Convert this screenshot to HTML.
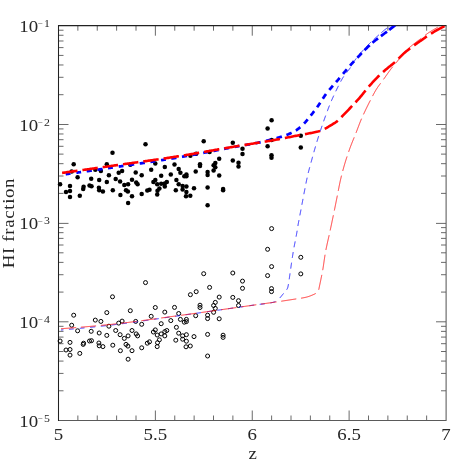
<!DOCTYPE html>
<html><head><meta charset="utf-8"><title>HI fraction</title>
<style>
html,body{margin:0;padding:0;background:#fff;}
body{width:471px;height:471px;overflow:hidden;font-family:"Liberation Serif",serif;}
svg{display:block;}
</style></head><body>
<svg width="471" height="471" viewBox="0 0 471 471">
<rect x="0" y="0" width="471" height="471" fill="#ffffff"/>
<defs><clipPath id="c"><rect x="58.5" y="25.7" width="387.5" height="394.8"/></clipPath><filter id="gs" x="0" y="0" width="471" height="471" filterUnits="userSpaceOnUse" color-interpolation-filters="sRGB"><feColorMatrix type="saturate" values="0"/></filter></defs>
<path d="M155.38,420.5 v-10 M155.38,25.7 v10 M252.25,420.5 v-10 M252.25,25.7 v10 M349.12,420.5 v-10 M349.12,25.7 v10 M58.5,321.80 h10 M446.0,321.80 h-10 M58.5,223.40 h10 M446.0,223.40 h-10 M58.5,124.50 h10 M446.0,124.50 h-10" stroke="#444" stroke-width="0.8" fill="none"/>
<path d="M77.87,420.5 v-5 M77.87,25.7 v5 M97.25,420.5 v-5 M97.25,25.7 v5 M116.62,420.5 v-5 M116.62,25.7 v5 M136.00,420.5 v-5 M136.00,25.7 v5 M174.75,420.5 v-5 M174.75,25.7 v5 M194.13,420.5 v-5 M194.13,25.7 v5 M213.50,420.5 v-5 M213.50,25.7 v5 M232.88,420.5 v-5 M232.88,25.7 v5 M271.62,420.5 v-5 M271.62,25.7 v5 M291.00,420.5 v-5 M291.00,25.7 v5 M310.38,420.5 v-5 M310.38,25.7 v5 M329.75,420.5 v-5 M329.75,25.7 v5 M368.50,420.5 v-5 M368.50,25.7 v5 M387.88,420.5 v-5 M387.88,25.7 v5 M407.25,420.5 v-5 M407.25,25.7 v5 M426.63,420.5 v-5 M426.63,25.7 v5 M58.5,390.79 h5 M446.0,390.79 h-5 M58.5,373.41 h5 M446.0,373.41 h-5 M58.5,361.08 h5 M446.0,361.08 h-5 M58.5,351.51 h5 M446.0,351.51 h-5 M58.5,343.70 h5 M446.0,343.70 h-5 M58.5,337.09 h5 M446.0,337.09 h-5 M58.5,331.37 h5 M446.0,331.37 h-5 M58.5,326.32 h5 M446.0,326.32 h-5 M58.5,292.09 h5 M446.0,292.09 h-5 M58.5,274.71 h5 M446.0,274.71 h-5 M58.5,262.38 h5 M446.0,262.38 h-5 M58.5,252.81 h5 M446.0,252.81 h-5 M58.5,245.00 h5 M446.0,245.00 h-5 M58.5,238.39 h5 M446.0,238.39 h-5 M58.5,232.67 h5 M446.0,232.67 h-5 M58.5,227.62 h5 M446.0,227.62 h-5 M58.5,193.39 h5 M446.0,193.39 h-5 M58.5,176.01 h5 M446.0,176.01 h-5 M58.5,163.68 h5 M446.0,163.68 h-5 M58.5,154.11 h5 M446.0,154.11 h-5 M58.5,146.30 h5 M446.0,146.30 h-5 M58.5,139.69 h5 M446.0,139.69 h-5 M58.5,133.97 h5 M446.0,133.97 h-5 M58.5,128.92 h5 M446.0,128.92 h-5 M58.5,94.69 h5 M446.0,94.69 h-5 M58.5,77.31 h5 M446.0,77.31 h-5 M58.5,64.98 h5 M446.0,64.98 h-5 M58.5,55.41 h5 M446.0,55.41 h-5 M58.5,47.60 h5 M446.0,47.60 h-5 M58.5,40.99 h5 M446.0,40.99 h-5 M58.5,35.27 h5 M446.0,35.27 h-5 M58.5,30.22 h5 M446.0,30.22 h-5" stroke="#444" stroke-width="0.8" fill="none"/>
<path d="M446.1,25.6 V420.5 H58.5" stroke="#5a5a5a" stroke-width="1.05" fill="none"/>
<path d="M58.5,421.0 V25.1" stroke="#222" stroke-width="1.05" fill="none"/>
<path d="M58.0,25.6 H446.5" stroke="#222" stroke-width="1.1" fill="none"/>
<g fill="none" stroke="#000" stroke-width="1.0">
<circle cx="60.1" cy="341.0" r="2.0"/>
<circle cx="73.7" cy="315.2" r="2.0"/>
<circle cx="71.7" cy="325.2" r="2.0"/>
<circle cx="77.6" cy="330.8" r="2.0"/>
<circle cx="70.0" cy="342.4" r="2.0"/>
<circle cx="66.0" cy="350.0" r="2.0"/>
<circle cx="70.0" cy="349.5" r="2.0"/>
<circle cx="70.0" cy="355.1" r="2.0"/>
<circle cx="79.8" cy="353.4" r="2.0"/>
<circle cx="83.6" cy="343.2" r="2.0"/>
<circle cx="83.2" cy="344.4" r="2.0"/>
<circle cx="91.2" cy="331.3" r="2.0"/>
<circle cx="89.5" cy="341.0" r="2.0"/>
<circle cx="91.5" cy="340.7" r="2.0"/>
<circle cx="95.3" cy="320.1" r="2.0"/>
<circle cx="100.9" cy="321.4" r="2.0"/>
<circle cx="99.2" cy="333.0" r="2.0"/>
<circle cx="98.9" cy="343.0" r="2.0"/>
<circle cx="99.2" cy="345.8" r="2.0"/>
<circle cx="102.9" cy="346.6" r="2.0"/>
<circle cx="106.8" cy="312.6" r="2.0"/>
<circle cx="108.9" cy="326.2" r="2.0"/>
<circle cx="106.8" cy="335.4" r="2.0"/>
<circle cx="112.5" cy="296.8" r="2.0"/>
<circle cx="112.8" cy="345.2" r="2.0"/>
<circle cx="145.5" cy="282.6" r="2.0"/>
<circle cx="115.7" cy="330.5" r="2.0"/>
<circle cx="118.7" cy="323.1" r="2.0"/>
<circle cx="122.1" cy="321.1" r="2.0"/>
<circle cx="120.1" cy="334.7" r="2.0"/>
<circle cx="124.3" cy="338.4" r="2.0"/>
<circle cx="128.1" cy="335.9" r="2.0"/>
<circle cx="126.0" cy="344.4" r="2.0"/>
<circle cx="127.9" cy="346.1" r="2.0"/>
<circle cx="120.4" cy="350.7" r="2.0"/>
<circle cx="132.0" cy="350.7" r="2.0"/>
<circle cx="128.1" cy="359.2" r="2.0"/>
<circle cx="130.3" cy="310.7" r="2.0"/>
<circle cx="135.7" cy="321.4" r="2.0"/>
<circle cx="132.0" cy="330.5" r="2.0"/>
<circle cx="136.2" cy="333.9" r="2.0"/>
<circle cx="137.6" cy="335.9" r="2.0"/>
<circle cx="141.7" cy="324.3" r="2.0"/>
<circle cx="141.7" cy="347.8" r="2.0"/>
<circle cx="147.3" cy="343.2" r="2.0"/>
<circle cx="149.5" cy="341.8" r="2.0"/>
<circle cx="151.2" cy="316.3" r="2.0"/>
<circle cx="155.3" cy="307.5" r="2.0"/>
<circle cx="155.3" cy="329.9" r="2.0"/>
<circle cx="153.4" cy="332.0" r="2.0"/>
<circle cx="157.2" cy="335.0" r="2.0"/>
<circle cx="159.4" cy="339.8" r="2.0"/>
<circle cx="157.5" cy="342.7" r="2.0"/>
<circle cx="157.2" cy="346.6" r="2.0"/>
<circle cx="161.2" cy="323.7" r="2.0"/>
<circle cx="161.2" cy="333.9" r="2.0"/>
<circle cx="164.8" cy="312.1" r="2.0"/>
<circle cx="164.8" cy="331.6" r="2.0"/>
<circle cx="166.8" cy="330.5" r="2.0"/>
<circle cx="164.8" cy="335.9" r="2.0"/>
<circle cx="170.8" cy="320.6" r="2.0"/>
<circle cx="174.5" cy="307.4" r="2.0"/>
<circle cx="175.8" cy="340.2" r="2.0"/>
<circle cx="178.7" cy="313.5" r="2.0"/>
<circle cx="180.4" cy="319.4" r="2.0"/>
<circle cx="176.4" cy="327.3" r="2.0"/>
<circle cx="178.7" cy="333.2" r="2.0"/>
<circle cx="184.3" cy="322.2" r="2.0"/>
<circle cx="186.4" cy="319.4" r="2.0"/>
<circle cx="186.4" cy="321.6" r="2.0"/>
<circle cx="182.6" cy="335.8" r="2.0"/>
<circle cx="186.4" cy="334.7" r="2.0"/>
<circle cx="182.6" cy="339.2" r="2.0"/>
<circle cx="186.4" cy="341.2" r="2.0"/>
<circle cx="186.0" cy="346.8" r="2.0"/>
<circle cx="190.3" cy="346.0" r="2.0"/>
<circle cx="190.4" cy="294.7" r="2.0"/>
<circle cx="196.2" cy="291.7" r="2.0"/>
<circle cx="195.7" cy="315.7" r="2.0"/>
<circle cx="194.0" cy="336.6" r="2.0"/>
<circle cx="200.0" cy="305.2" r="2.0"/>
<circle cx="200.0" cy="307.5" r="2.0"/>
<circle cx="203.7" cy="273.7" r="2.0"/>
<circle cx="207.6" cy="315.2" r="2.0"/>
<circle cx="207.6" cy="318.6" r="2.0"/>
<circle cx="207.6" cy="334.4" r="2.0"/>
<circle cx="207.6" cy="356.0" r="2.0"/>
<circle cx="209.6" cy="287.4" r="2.0"/>
<circle cx="213.6" cy="305.5" r="2.0"/>
<circle cx="215.3" cy="302.4" r="2.0"/>
<circle cx="215.3" cy="308.4" r="2.0"/>
<circle cx="213.6" cy="312.3" r="2.0"/>
<circle cx="219.2" cy="297.1" r="2.0"/>
<circle cx="219.2" cy="318.8" r="2.0"/>
<circle cx="223.1" cy="335.2" r="2.0"/>
<circle cx="223.1" cy="337.4" r="2.0"/>
<circle cx="232.8" cy="273.0" r="2.0"/>
<circle cx="232.8" cy="297.4" r="2.0"/>
<circle cx="242.5" cy="281.1" r="2.0"/>
<circle cx="242.5" cy="288.3" r="2.0"/>
<circle cx="238.5" cy="300.7" r="2.0"/>
<circle cx="238.5" cy="305.5" r="2.0"/>
<circle cx="267.6" cy="249.3" r="2.0"/>
<circle cx="271.6" cy="228.6" r="2.0"/>
<circle cx="271.6" cy="266.6" r="2.0"/>
<circle cx="267.6" cy="275.6" r="2.0"/>
<circle cx="271.5" cy="288.6" r="2.0"/>
<circle cx="271.5" cy="291.6" r="2.0"/>
<circle cx="300.8" cy="257.3" r="2.0"/>
<circle cx="300.8" cy="273.9" r="2.0"/>
</g>
<g fill="#000">
<circle cx="60.1" cy="184.3" r="2.25"/>
<circle cx="73.7" cy="164.2" r="2.25"/>
<circle cx="71.7" cy="171.5" r="2.25"/>
<circle cx="77.6" cy="177.2" r="2.25"/>
<circle cx="70.0" cy="186.0" r="2.25"/>
<circle cx="66.0" cy="192.1" r="2.25"/>
<circle cx="70.0" cy="191.1" r="2.25"/>
<circle cx="70.0" cy="196.9" r="2.25"/>
<circle cx="79.8" cy="195.7" r="2.25"/>
<circle cx="83.6" cy="186.8" r="2.25"/>
<circle cx="83.2" cy="188.9" r="2.25"/>
<circle cx="91.2" cy="178.7" r="2.25"/>
<circle cx="89.5" cy="185.5" r="2.25"/>
<circle cx="91.5" cy="186.2" r="2.25"/>
<circle cx="95.3" cy="169.8" r="2.25"/>
<circle cx="100.9" cy="171.0" r="2.25"/>
<circle cx="99.2" cy="179.9" r="2.25"/>
<circle cx="98.9" cy="187.7" r="2.25"/>
<circle cx="99.2" cy="190.2" r="2.25"/>
<circle cx="102.9" cy="191.6" r="2.25"/>
<circle cx="106.8" cy="164.2" r="2.25"/>
<circle cx="108.9" cy="175.3" r="2.25"/>
<circle cx="106.8" cy="181.9" r="2.25"/>
<circle cx="112.5" cy="152.8" r="2.25"/>
<circle cx="112.8" cy="190.2" r="2.25"/>
<circle cx="145.5" cy="144.3" r="2.25"/>
<circle cx="115.7" cy="178.9" r="2.25"/>
<circle cx="118.7" cy="172.7" r="2.25"/>
<circle cx="122.1" cy="171.0" r="2.25"/>
<circle cx="120.1" cy="181.4" r="2.25"/>
<circle cx="124.3" cy="185.1" r="2.25"/>
<circle cx="128.1" cy="184.3" r="2.25"/>
<circle cx="126.0" cy="190.2" r="2.25"/>
<circle cx="127.9" cy="191.6" r="2.25"/>
<circle cx="120.4" cy="195.0" r="2.25"/>
<circle cx="132.0" cy="196.2" r="2.25"/>
<circle cx="128.1" cy="203.0" r="2.25"/>
<circle cx="130.3" cy="164.7" r="2.25"/>
<circle cx="135.7" cy="172.4" r="2.25"/>
<circle cx="132.0" cy="179.7" r="2.25"/>
<circle cx="136.2" cy="182.6" r="2.25"/>
<circle cx="137.6" cy="184.3" r="2.25"/>
<circle cx="141.7" cy="175.3" r="2.25"/>
<circle cx="141.7" cy="194.0" r="2.25"/>
<circle cx="147.3" cy="190.6" r="2.25"/>
<circle cx="149.5" cy="189.7" r="2.25"/>
<circle cx="151.2" cy="169.8" r="2.25"/>
<circle cx="155.3" cy="163.4" r="2.25"/>
<circle cx="155.3" cy="180.0" r="2.25"/>
<circle cx="153.4" cy="182.1" r="2.25"/>
<circle cx="157.2" cy="184.3" r="2.25"/>
<circle cx="159.4" cy="188.5" r="2.25"/>
<circle cx="157.5" cy="190.8" r="2.25"/>
<circle cx="157.2" cy="194.5" r="2.25"/>
<circle cx="161.2" cy="175.8" r="2.25"/>
<circle cx="161.2" cy="183.8" r="2.25"/>
<circle cx="164.8" cy="167.0" r="2.25"/>
<circle cx="164.8" cy="183.4" r="2.25"/>
<circle cx="166.8" cy="182.1" r="2.25"/>
<circle cx="164.8" cy="186.5" r="2.25"/>
<circle cx="170.8" cy="174.4" r="2.25"/>
<circle cx="174.5" cy="164.5" r="2.25"/>
<circle cx="175.8" cy="190.2" r="2.25"/>
<circle cx="178.7" cy="169.0" r="2.25"/>
<circle cx="180.4" cy="172.7" r="2.25"/>
<circle cx="176.4" cy="180.0" r="2.25"/>
<circle cx="178.7" cy="184.3" r="2.25"/>
<circle cx="184.3" cy="176.3" r="2.25"/>
<circle cx="186.4" cy="174.4" r="2.25"/>
<circle cx="186.4" cy="176.3" r="2.25"/>
<circle cx="182.6" cy="186.0" r="2.25"/>
<circle cx="186.4" cy="186.5" r="2.25"/>
<circle cx="182.6" cy="189.4" r="2.25"/>
<circle cx="186.4" cy="191.9" r="2.25"/>
<circle cx="186.0" cy="196.2" r="2.25"/>
<circle cx="190.3" cy="195.7" r="2.25"/>
<circle cx="190.4" cy="155.7" r="2.25"/>
<circle cx="196.2" cy="153.7" r="2.25"/>
<circle cx="195.7" cy="171.5" r="2.25"/>
<circle cx="194.0" cy="188.2" r="2.25"/>
<circle cx="200.0" cy="164.2" r="2.25"/>
<circle cx="200.0" cy="166.1" r="2.25"/>
<circle cx="203.7" cy="141.3" r="2.25"/>
<circle cx="207.6" cy="171.9" r="2.25"/>
<circle cx="207.6" cy="174.9" r="2.25"/>
<circle cx="207.6" cy="187.4" r="2.25"/>
<circle cx="207.6" cy="205.2" r="2.25"/>
<circle cx="209.6" cy="152.0" r="2.25"/>
<circle cx="213.6" cy="165.3" r="2.25"/>
<circle cx="215.3" cy="163.0" r="2.25"/>
<circle cx="215.3" cy="167.3" r="2.25"/>
<circle cx="213.6" cy="170.4" r="2.25"/>
<circle cx="219.2" cy="158.8" r="2.25"/>
<circle cx="219.2" cy="175.5" r="2.25"/>
<circle cx="223.1" cy="189.1" r="2.25"/>
<circle cx="223.1" cy="190.2" r="2.25"/>
<circle cx="232.8" cy="142.8" r="2.25"/>
<circle cx="232.8" cy="160.4" r="2.25"/>
<circle cx="242.5" cy="148.8" r="2.25"/>
<circle cx="242.5" cy="154.1" r="2.25"/>
<circle cx="238.5" cy="162.7" r="2.25"/>
<circle cx="238.5" cy="166.5" r="2.25"/>
<circle cx="267.6" cy="128.4" r="2.25"/>
<circle cx="271.6" cy="120.2" r="2.25"/>
<circle cx="271.6" cy="140.0" r="2.25"/>
<circle cx="267.6" cy="146.3" r="2.25"/>
<circle cx="271.5" cy="155.3" r="2.25"/>
<circle cx="271.5" cy="157.8" r="2.25"/>
<circle cx="300.8" cy="135.8" r="2.25"/>
<circle cx="300.8" cy="147.4" r="2.25"/>
</g>
<g clip-path="url(#c)" fill="none">
<path d="M61.00,330.00 L61.40,329.97 L61.80,329.93 L62.20,329.90 L62.60,329.87 L62.99,329.84 L63.39,329.80 M68.97,329.33 L69.37,329.29 L69.77,329.26 L70.17,329.22 L70.57,329.19 L70.97,329.15 L71.37,329.12 L71.77,329.08 L72.16,329.05 L72.56,329.01 L72.96,328.98 L73.36,328.94 L73.76,328.90 M79.73,328.35 L80.13,328.31 L80.53,328.28 L80.93,328.24 L81.33,328.20 L81.73,328.16 L82.12,328.12 L82.52,328.09 L82.92,328.05 L83.32,328.01 L83.72,327.97 L84.11,327.93 L84.51,327.89 M90.09,327.34 L90.48,327.30 L90.88,327.26 L91.28,327.22 L91.68,327.18 L92.07,327.14 L92.47,327.10 L92.87,327.05 L93.27,327.01 L93.67,326.97 L94.06,326.93 L94.46,326.89 L94.86,326.85 L95.26,326.81 M100.83,326.22 L101.22,326.17 L101.62,326.13 L102.02,326.09 L102.42,326.04 L102.81,326.00 L103.21,325.96 L103.61,325.91 L104.01,325.87 L104.40,325.83 L104.80,325.78 L105.20,325.74 L105.60,325.69 L105.99,325.65 M111.55,325.02 L111.95,324.98 L112.35,324.93 L112.75,324.88 L113.14,324.84 L113.54,324.79 L113.94,324.74 L114.33,324.70 L114.73,324.65 L115.13,324.60 L115.53,324.55 L115.92,324.51 L116.32,324.46 L116.72,324.41 M122.27,323.71 L122.67,323.66 L123.06,323.61 L123.46,323.56 L123.86,323.51 L124.25,323.46 L124.65,323.41 L125.05,323.36 L125.44,323.30 L125.84,323.25 L126.24,323.20 L126.63,323.15 L127.03,323.10 M132.98,322.29 L133.37,322.24 L133.77,322.18 L134.16,322.13 L134.56,322.08 L134.96,322.02 L135.35,321.97 L135.75,321.91 L136.15,321.86 L136.54,321.80 L136.94,321.75 L137.33,321.69 L137.73,321.63 M143.28,320.85 L143.67,320.79 L144.07,320.74 L144.46,320.68 L144.86,320.62 L145.26,320.57 L145.65,320.51 L146.05,320.45 L146.45,320.40 L146.84,320.34 L147.24,320.28 L147.63,320.23 L148.03,320.17 L148.43,320.11 M153.97,319.31 L154.37,319.25 L154.76,319.20 L155.16,319.14 L155.55,319.08 L155.95,319.02 L156.35,318.97 L156.74,318.91 L157.14,318.85 L157.53,318.80 L157.93,318.74 L158.33,318.68 L158.72,318.62 M164.66,317.77 L165.06,317.71 L165.45,317.65 L165.85,317.60 L166.25,317.54 L166.64,317.48 L167.04,317.43 L167.43,317.37 L167.83,317.31 L168.23,317.26 L168.62,317.20 L169.02,317.14 L169.41,317.09 M174.96,316.31 L175.36,316.25 L175.75,316.20 L176.15,316.14 L176.54,316.08 L176.94,316.03 L177.34,315.97 L177.73,315.92 L178.13,315.86 L178.52,315.81 L178.92,315.75 L179.32,315.70 L179.71,315.64 L180.11,315.59 M185.65,314.81 L186.05,314.75 L186.45,314.69 L186.84,314.64 L187.24,314.58 L187.63,314.53 L188.03,314.47 L188.43,314.41 L188.82,314.36 L189.22,314.30 L189.62,314.24 L190.01,314.19 L190.41,314.13 L190.80,314.08 M196.35,313.29 L196.74,313.23 L197.14,313.18 L197.54,313.12 L197.93,313.06 L198.33,313.01 L198.72,312.95 L199.12,312.89 L199.52,312.84 L199.91,312.78 L200.31,312.72 L200.70,312.67 L201.10,312.61 M207.04,311.76 L207.43,311.70 L207.83,311.65 L208.23,311.59 L208.62,311.53 L209.02,311.48 L209.41,311.42 L209.81,311.36 L210.21,311.31 L210.60,311.25 L211.00,311.19 L211.39,311.14 L211.79,311.08 M217.33,310.28 L217.73,310.23 L218.13,310.17 L218.52,310.11 L218.92,310.06 L219.31,310.00 L219.71,309.94 L220.11,309.89 L220.50,309.83 L220.90,309.77 L221.29,309.72 L221.69,309.66 L222.09,309.60 L222.48,309.55 M228.02,308.75 L228.42,308.70 L228.82,308.64 L229.21,308.58 L229.61,308.53 L230.00,308.47 L230.40,308.41 L230.80,308.36 L231.19,308.30 L231.59,308.24 L231.98,308.19 L232.38,308.13 L232.78,308.07 L233.17,308.02 M238.72,307.23 L239.11,307.17 L239.51,307.12 L239.90,307.06 L240.30,307.00 L240.70,306.95 L241.09,306.89 L241.49,306.84 L241.88,306.78 L242.28,306.72 L242.68,306.67 L243.07,306.61 L243.47,306.56 M249.41,305.72 L249.81,305.66 L250.20,305.61 L250.60,305.55 L250.99,305.50 L251.39,305.44 L251.79,305.39 L252.18,305.33 L252.58,305.27 L252.98,305.22 L253.37,305.16 L253.77,305.11 L254.16,305.05 M259.72,304.32 L260.12,304.27 L260.52,304.22 L260.92,304.18 L261.32,304.13 L261.72,304.09 L262.12,304.04 L262.52,304.00 L262.92,303.95 L263.32,303.91 L263.72,303.86 L264.12,303.81 L264.52,303.77 L264.91,303.72 M270.44,302.91 L270.83,302.83 L271.22,302.76 L271.61,302.68 L272.00,302.60 L272.38,302.51 L272.78,302.42 L273.17,302.32 L273.56,302.21 L273.96,302.09 L274.34,301.97 L274.73,301.83 L275.10,301.69 L275.47,301.54 M279.74,298.03 L280.01,297.73 L280.27,297.43 L280.53,297.13 L280.79,296.82 L281.05,296.52 L281.30,296.21 L281.56,295.90 L281.81,295.58 L282.06,295.27 L282.32,294.96 L282.57,294.65 L282.82,294.34 L283.08,294.02 L283.33,293.72 L283.59,293.41 M286.66,289.72 L286.87,289.38 L287.09,289.04 L287.29,288.68 L287.47,288.33 L287.61,287.96 L287.74,287.59 L287.84,287.20 L287.94,286.81 L288.03,286.42 L288.11,286.02 L288.19,285.63 L288.27,285.24 L288.34,284.85 L288.41,284.45 L288.48,284.06 M289.20,279.31 L289.26,278.92 L289.32,278.52 L289.37,278.12 L289.43,277.73 L289.48,277.33 L289.54,276.94 L289.59,276.54 L289.65,276.14 L289.70,275.75 L289.76,275.35 L289.81,274.95 L289.87,274.56 L289.92,274.16 L289.98,273.77 L290.03,273.37 M290.72,268.62 L290.77,268.22 L290.83,267.83 L290.89,267.43 L290.95,267.03 L291.00,266.64 L291.06,266.24 L291.12,265.85 L291.17,265.45 L291.23,265.05 L291.29,264.66 L291.35,264.26 L291.40,263.87 L291.46,263.47 L291.52,263.07 L291.58,262.68 M292.28,257.93 L292.34,257.53 L292.40,257.14 L292.46,256.74 L292.52,256.35 L292.58,255.95 L292.64,255.56 L292.71,255.16 L292.77,254.77 L292.83,254.37 L292.89,253.98 L292.96,253.58 L293.02,253.19 L293.09,252.79 L293.15,252.40 L293.22,252.01 M294.05,247.28 L294.12,246.89 L294.19,246.49 L294.27,246.10 L294.34,245.71 L294.42,245.31 L294.49,244.92 L294.56,244.53 L294.64,244.13 L294.72,243.74 L294.79,243.35 L294.87,242.96 L294.94,242.56 L295.02,242.17 L295.09,241.78 L295.17,241.38 M296.08,236.67 L296.15,236.28 L296.22,235.88 L296.30,235.49 L296.37,235.10 L296.44,234.70 L296.52,234.31 L296.59,233.92 L296.66,233.52 L296.73,233.13 L296.80,232.73 L296.87,232.34 L296.94,231.95 L297.01,231.55 L297.07,231.16 L297.14,230.76 M297.90,226.02 L297.96,225.63 L298.03,225.24 L298.10,224.84 L298.16,224.45 L298.23,224.05 L298.30,223.66 L298.37,223.27 L298.44,222.87 L298.52,222.48 L298.59,222.09 L298.66,221.69 L298.73,221.30 L298.80,220.91 L298.88,220.51 L298.95,220.12 M299.85,215.40 L299.93,215.01 L300.00,214.62 L300.08,214.23 L300.16,213.83 L300.23,213.44 L300.31,213.05 L300.38,212.65 L300.46,212.26 L300.54,211.87 L300.61,211.48 L300.69,211.08 L300.76,210.69 L300.84,210.30 L300.91,209.90 L300.99,209.51 M301.88,204.79 L301.95,204.40 L302.03,204.01 L302.10,203.62 L302.17,203.22 L302.25,202.83 L302.32,202.44 L302.39,202.04 L302.47,201.65 L302.54,201.26 L302.61,200.86 L302.69,200.47 L302.76,200.08 L302.84,199.68 L302.91,199.29 L302.98,198.90 M303.88,194.18 L303.96,193.79 L304.03,193.40 L304.11,193.00 L304.18,192.61 L304.26,192.22 L304.34,191.83 L304.41,191.43 L304.49,191.04 L304.57,190.65 L304.64,190.26 L304.72,189.86 L304.79,189.47 L304.87,189.08 L304.94,188.68 L305.02,188.29 M305.93,183.57 L306.01,183.18 L306.08,182.79 L306.16,182.40 L306.24,182.00 L306.32,181.61 L306.40,181.22 L306.48,180.83 L306.56,180.44 L306.64,180.04 L306.72,179.65 L306.80,179.26 L306.88,178.87 L306.97,178.48 L307.05,178.09 L307.13,177.70 M308.21,173.03 L308.31,172.64 L308.41,172.25 L308.50,171.86 L308.60,171.47 L308.70,171.09 L308.80,170.70 L308.90,170.31 L309.00,169.93 L309.11,169.54 L309.21,169.15 L309.31,168.77 L309.41,168.38 L309.52,167.99 L309.62,167.61 L309.73,167.22 M311.00,162.59 L311.11,162.20 L311.22,161.82 L311.32,161.43 L311.43,161.05 L311.54,160.66 L311.64,160.27 L311.75,159.89 L311.85,159.50 L311.96,159.12 L312.06,158.73 L312.17,158.35 L312.28,157.96 L312.38,157.57 L312.49,157.19 L312.59,156.80 M313.88,152.18 L313.99,151.79 L314.09,151.41 L314.20,151.02 L314.31,150.64 L314.42,150.25 L314.53,149.87 L314.64,149.48 L314.75,149.10 L314.86,148.71 L314.97,148.33 L315.08,147.95 L315.19,147.56 L315.30,147.18 L315.42,146.79 L315.53,146.41 M316.89,141.81 L317.01,141.42 L317.13,141.04 L317.24,140.66 L317.36,140.28 L317.48,139.89 L317.60,139.51 L317.71,139.13 L317.83,138.75 L317.95,138.37 L318.07,137.98 L318.19,137.60 L318.31,137.22 L318.43,136.84 L318.55,136.46 L318.67,136.08 M320.15,131.51 L320.27,131.13 L320.40,130.75 L320.53,130.37 L320.65,129.99 L320.78,129.61 L320.91,129.23 L321.03,128.85 L321.16,128.47 L321.29,128.09 L321.42,127.72 L321.54,127.34 L321.67,126.96 L321.80,126.58 L321.93,126.20 L322.06,125.82 M323.63,121.29 L323.77,120.91 L323.90,120.53 L324.03,120.15 L324.17,119.78 L324.30,119.40 L324.44,119.02 L324.57,118.65 L324.71,118.27 L324.84,117.89 L324.98,117.52 L325.11,117.14 L325.25,116.77 L325.39,116.39 L325.52,116.01 L325.66,115.64 M327.32,111.13 L327.46,110.76 L327.60,110.38 L327.74,110.01 L327.88,109.63 L328.02,109.26 L328.16,108.88 L328.30,108.51 L328.45,108.14 L328.59,107.76 L328.73,107.39 L328.88,107.02 L329.02,106.64 L329.17,106.27 L329.32,105.90 L329.46,105.53 M331.29,101.09 L331.45,100.72 L331.60,100.36 L331.77,99.99 L331.93,99.63 L332.09,99.26 L332.25,98.90 L332.42,98.53 L332.59,98.17 L332.75,97.80 L332.92,97.44 L333.09,97.08 L333.26,96.71 L333.42,96.35 L333.59,95.99 L333.76,95.63 M335.81,91.28 L335.98,90.92 L336.16,90.56 L336.33,90.20 L336.50,89.84 L336.67,89.48 L336.85,89.12 L337.02,88.76 L337.20,88.40 L337.37,88.04 L337.55,87.68 L337.73,87.32 L337.91,86.96 L338.09,86.61 L338.27,86.25 L338.45,85.89 M340.66,81.62 L340.85,81.27 L341.04,80.91 L341.23,80.56 L341.42,80.21 L341.62,79.86 L341.81,79.51 L342.01,79.17 L342.21,78.82 L342.42,78.48 L342.62,78.14 L342.83,77.80 L343.04,77.46 L343.25,77.12 L343.47,76.79 L343.69,76.46 M346.59,72.64 L346.84,72.32 L347.09,72.01 L347.34,71.70 L347.59,71.38 L347.84,71.07 L348.09,70.75 L348.34,70.43 L348.58,70.12 L348.82,69.80 L349.06,69.48 L349.30,69.15 L349.53,68.83 L349.76,68.50 L349.99,68.17 L350.21,67.84 L350.43,67.51 M352.70,63.73 L352.91,63.38 L353.11,63.04 L353.32,62.70 L353.53,62.36 L353.74,62.01 L353.95,61.68 L354.16,61.34 L354.38,61.01 L354.60,60.68 L354.83,60.35 L355.06,60.02 L355.29,59.70 L355.52,59.38 L355.76,59.06 L355.99,58.74 L356.23,58.42 M358.73,55.29 L358.99,54.98 L359.24,54.67 L359.50,54.37 L359.76,54.06 L360.02,53.76 L360.29,53.45 L360.55,53.15 L360.81,52.85 L361.08,52.55 L361.34,52.24 L361.61,51.94 L361.87,51.64 L362.14,51.34 L362.40,51.04 L362.67,50.74 L362.94,50.44 L363.20,50.15 L363.47,49.85 M365.90,47.19 L366.17,46.90 L366.44,46.61 L366.72,46.32 L367.00,46.03 L367.27,45.74 L367.55,45.45 L367.83,45.16 L368.11,44.88 L368.39,44.59 L368.67,44.31 L368.95,44.02 L369.24,43.74 L369.52,43.46 L369.81,43.18 L370.09,42.90 L370.38,42.62 L370.66,42.34 L370.95,42.06 M373.58,39.61 L373.88,39.34 L374.18,39.08 L374.48,38.81 L374.78,38.54 L375.08,38.28 L375.38,38.01 L375.68,37.75 L375.98,37.48 L376.28,37.22 L376.58,36.95 L376.88,36.69 L377.18,36.42 L377.47,36.16 L377.77,35.89 L378.07,35.62 L378.37,35.36 L378.67,35.09 L378.97,34.82 M381.34,32.68 L381.64,32.41 L381.94,32.15 L382.24,31.88 L382.55,31.62 L382.85,31.36 L383.15,31.10 L383.46,30.84 L383.77,30.59 L384.08,30.34 L384.39,30.09 L384.70,29.84 L385.02,29.59 L385.33,29.35 L385.65,29.11 L385.97,28.87 L386.29,28.63 L386.61,28.39 L386.93,28.15 L387.25,27.91 M389.84,26.02 L390.16,25.78 L390.48,25.54 L390.80,25.31 L391.13,25.07 L391.45,24.84" stroke="#1010ff" stroke-width="0.88"/>
<path d="M61.00,328.70 L61.40,328.67 L61.80,328.65 L62.20,328.62 L62.60,328.59 L63.00,328.56 L63.40,328.54 L63.80,328.51 L64.19,328.48 L64.59,328.45 L64.99,328.43 L65.39,328.40 L65.79,328.37 L66.19,328.34 L66.59,328.31 L66.99,328.28 L67.39,328.25 L67.79,328.22 L68.19,328.20 L68.59,328.17 L68.98,328.14 L69.38,328.11 L69.78,328.08 L70.18,328.05 L70.58,328.02 L70.98,327.99 L71.38,327.96 L71.78,327.93 L72.18,327.90 L72.58,327.87 L72.97,327.84 L73.37,327.81 L73.77,327.78 L74.17,327.74 L74.57,327.71 L74.97,327.68 L75.37,327.65 L75.77,327.62 L76.17,327.59 M80.95,327.20 L81.35,327.17 L81.75,327.13 L82.15,327.10 L82.55,327.07 L82.94,327.03 L83.34,327.00 L83.74,326.96 L84.14,326.93 L84.54,326.90 L84.94,326.86 L85.34,326.83 L85.73,326.79 L86.13,326.76 L86.53,326.72 L86.93,326.69 L87.33,326.66 L87.73,326.62 L88.13,326.59 L88.52,326.55 L88.92,326.51 L89.32,326.48 L89.72,326.44 L90.12,326.41 L90.52,326.37 L90.92,326.34 L91.31,326.30 L91.71,326.26 L92.11,326.23 L92.51,326.19 L92.91,326.16 L93.31,326.12 L93.70,326.08 L94.10,326.05 L94.50,326.01 L94.90,325.97 L95.30,325.94 L95.69,325.90 L96.09,325.86 M100.87,325.41 L101.27,325.37 L101.67,325.33 L102.06,325.29 L102.46,325.25 L102.86,325.21 L103.26,325.18 L103.66,325.14 L104.05,325.10 L104.45,325.06 L104.85,325.02 L105.25,324.98 L105.64,324.94 L106.04,324.90 L106.44,324.86 L106.84,324.82 L107.24,324.78 L107.63,324.74 L108.03,324.70 L108.43,324.66 L108.83,324.62 L109.22,324.58 L109.62,324.54 L110.02,324.50 L110.42,324.46 L110.82,324.42 L111.21,324.37 L111.61,324.33 L112.01,324.29 L112.41,324.25 L112.80,324.21 L113.20,324.17 L113.60,324.12 L114.00,324.08 L114.39,324.04 L114.79,323.99 L115.19,323.95 L115.59,323.91 L115.98,323.86 L116.38,323.82 M121.15,323.27 L121.54,323.23 L121.94,323.18 L122.34,323.13 L122.74,323.09 L123.13,323.04 L123.53,322.99 L123.93,322.94 L124.32,322.90 L124.72,322.85 L125.12,322.80 L125.52,322.75 L125.91,322.70 L126.31,322.66 L126.71,322.61 L127.10,322.56 L127.50,322.51 L127.90,322.46 L128.29,322.41 L128.69,322.36 L129.09,322.31 L129.48,322.26 L129.88,322.21 L130.28,322.16 L130.67,322.11 L131.07,322.06 L131.47,322.01 L131.87,321.96 L132.26,321.91 L132.66,321.86 L133.06,321.81 L133.45,321.76 L133.85,321.70 L134.25,321.65 L134.64,321.60 L135.04,321.55 L135.44,321.50 L135.83,321.45 L136.23,321.39 L136.63,321.34 M141.39,320.71 L141.78,320.66 L142.18,320.60 L142.57,320.55 L142.97,320.50 L143.37,320.44 L143.76,320.39 L144.16,320.33 L144.56,320.28 L144.95,320.23 L145.35,320.17 L145.75,320.12 L146.14,320.07 L146.54,320.01 L146.94,319.96 L147.33,319.90 L147.73,319.85 L148.13,319.79 L148.52,319.74 L148.92,319.69 L149.31,319.63 L149.71,319.58 L150.11,319.52 L150.50,319.47 L150.90,319.41 L151.30,319.36 L151.69,319.30 L152.09,319.25 L152.49,319.19 L152.88,319.14 L153.28,319.08 L153.67,319.03 L154.07,318.97 L154.47,318.92 L154.86,318.86 L155.26,318.81 L155.66,318.76 L156.05,318.70 L156.45,318.65 M161.21,317.99 L161.60,317.93 L162.00,317.88 L162.39,317.82 L162.79,317.77 L163.19,317.71 L163.58,317.66 L163.98,317.60 L164.38,317.55 L164.77,317.49 L165.17,317.44 L165.57,317.38 L165.96,317.33 L166.36,317.27 L166.75,317.22 L167.15,317.17 L167.55,317.11 L167.94,317.06 L168.34,317.00 L168.74,316.95 L169.13,316.89 L169.53,316.84 L169.93,316.79 L170.32,316.73 L170.72,316.68 L171.11,316.62 L171.51,316.57 L171.91,316.52 L172.30,316.46 L172.70,316.41 L173.10,316.36 L173.49,316.30 L173.89,316.25 L174.29,316.20 L174.68,316.14 L175.08,316.09 L175.48,316.04 L175.87,315.98 L176.27,315.93 M181.03,315.29 L181.42,315.23 L181.82,315.18 L182.21,315.13 L182.61,315.07 L183.01,315.02 L183.40,314.97 L183.80,314.91 L184.20,314.86 L184.59,314.80 L184.99,314.75 L185.39,314.70 L185.78,314.64 L186.18,314.59 L186.57,314.53 L186.97,314.48 L187.37,314.43 L187.76,314.37 L188.16,314.32 L188.56,314.26 L188.95,314.21 L189.35,314.15 L189.74,314.10 L190.14,314.05 L190.54,313.99 L190.93,313.94 L191.33,313.88 L191.73,313.83 L192.12,313.77 L192.52,313.72 L192.91,313.66 L193.31,313.61 L193.71,313.56 L194.10,313.50 L194.50,313.45 L194.90,313.39 L195.29,313.34 L195.69,313.28 L196.08,313.23 L196.48,313.17 M201.24,312.51 L201.63,312.46 L202.03,312.40 L202.42,312.35 L202.82,312.29 L203.22,312.24 L203.61,312.18 L204.01,312.13 L204.40,312.07 L204.80,312.02 L205.20,311.96 L205.59,311.91 L205.99,311.85 L206.39,311.80 L206.78,311.74 L207.18,311.68 L207.57,311.63 L207.97,311.57 L208.37,311.52 L208.76,311.46 L209.16,311.41 L209.55,311.35 L209.95,311.30 L210.35,311.24 L210.74,311.19 L211.14,311.13 L211.54,311.07 L211.93,311.02 L212.33,310.96 L212.72,310.91 L213.12,310.85 L213.52,310.80 L213.91,310.74 L214.31,310.69 L214.70,310.63 L215.10,310.57 L215.50,310.52 L215.89,310.46 L216.29,310.41 M221.04,309.74 L221.44,309.68 L221.83,309.63 L222.23,309.57 L222.63,309.51 L223.02,309.46 L223.42,309.40 L223.81,309.35 L224.21,309.29 L224.61,309.23 L225.00,309.18 L225.40,309.12 L225.79,309.07 L226.19,309.01 L226.59,308.95 L226.98,308.90 L227.38,308.84 L227.78,308.79 L228.17,308.73 L228.57,308.67 L228.96,308.62 L229.36,308.56 L229.76,308.51 L230.15,308.45 L230.55,308.39 L230.94,308.34 L231.34,308.28 L231.74,308.23 L232.13,308.17 L232.53,308.11 L232.92,308.06 L233.32,308.00 L233.72,307.95 L234.11,307.89 L234.51,307.83 L234.90,307.78 L235.30,307.72 L235.70,307.67 L236.09,307.61 L236.49,307.55 M241.24,306.88 L241.64,306.83 L242.03,306.77 L242.43,306.71 L242.83,306.66 L243.22,306.60 L243.62,306.55 L244.01,306.49 L244.41,306.43 L244.81,306.38 L245.20,306.32 L245.60,306.27 L245.99,306.21 L246.39,306.15 L246.79,306.10 L247.18,306.04 L247.58,305.99 L247.97,305.93 L248.37,305.87 L248.77,305.82 L249.16,305.76 L249.56,305.71 L249.95,305.65 L250.35,305.59 L250.75,305.54 L251.14,305.48 L251.54,305.43 L251.94,305.37 L252.33,305.32 L252.73,305.26 L253.12,305.20 L253.52,305.15 L253.92,305.09 L254.31,305.04 L254.71,304.98 L255.10,304.92 L255.50,304.87 L255.90,304.81 L256.29,304.76 M261.05,304.09 L261.44,304.04 L261.84,303.98 L262.23,303.93 L262.63,303.87 L263.03,303.81 L263.42,303.76 L263.82,303.70 L264.22,303.65 L264.61,303.59 L265.01,303.54 L265.40,303.48 L265.80,303.43 L266.20,303.37 L266.59,303.32 L266.99,303.26 L267.38,303.20 L267.78,303.15 L268.18,303.09 L268.57,303.04 L268.97,302.98 L269.36,302.93 L269.76,302.87 L270.16,302.81 L270.55,302.76 L270.95,302.70 L271.35,302.65 L271.74,302.59 L272.14,302.53 L272.53,302.48 L272.93,302.42 L273.33,302.36 L273.72,302.31 L274.12,302.25 L274.51,302.19 L274.91,302.14 L275.30,302.08 L275.70,302.02 L276.10,301.96 L276.49,301.91 M281.24,301.21 L281.64,301.15 L282.03,301.09 L282.43,301.03 L282.82,300.97 L283.22,300.91 L283.61,300.85 L284.01,300.79 L284.41,300.73 L284.80,300.67 L285.20,300.61 L285.59,300.55 L285.99,300.49 L286.38,300.43 L286.78,300.37 L287.17,300.31 L287.57,300.25 L287.96,300.19 L288.36,300.13 L288.75,300.06 L289.15,300.00 L289.55,299.94 L289.94,299.88 L290.34,299.82 L290.73,299.75 L291.13,299.69 L291.52,299.63 L291.92,299.57 L292.31,299.50 L292.71,299.44 L293.10,299.38 L293.50,299.32 L293.90,299.26 L294.29,299.21 L294.69,299.15 L295.09,299.09 L295.49,299.03 L295.88,298.98 L296.28,298.92 M301.05,298.20 L301.44,298.13 L301.84,298.07 L302.23,298.00 L302.62,297.93 L303.02,297.86 L303.41,297.78 L303.80,297.71 L304.19,297.63 L304.58,297.55 L304.97,297.47 L305.36,297.39 L305.74,297.30 L306.13,297.21 L306.51,297.12 L306.90,297.03 L307.28,296.92 L307.66,296.81 L308.05,296.70 L308.43,296.57 L308.81,296.45 L309.18,296.31 L309.56,296.18 L309.94,296.03 L310.32,295.89 L310.69,295.74 L311.06,295.59 L311.44,295.44 L311.81,295.29 L312.18,295.14 L312.54,294.98 L312.91,294.83 L313.28,294.67 L313.65,294.51 L314.02,294.34 L314.38,294.17 L314.74,293.99 L315.10,293.81 L315.44,293.61 L315.78,293.41 M318.71,289.77 L318.81,289.39 L318.91,289.00 L318.99,288.61 L319.07,288.22 L319.14,287.82 L319.21,287.42 L319.29,287.03 L319.38,286.64 L319.46,286.25 L319.54,285.86 L319.62,285.46 L319.71,285.07 L319.79,284.68 L319.87,284.29 L319.95,283.90 L320.04,283.51 L320.12,283.12 L320.20,282.72 L320.28,282.33 L320.36,281.94 L320.45,281.55 L320.53,281.16 L320.61,280.77 L320.69,280.37 L320.77,279.98 L320.85,279.59 L320.93,279.20 L321.01,278.81 L321.09,278.42 L321.17,278.02 L321.25,277.63 L321.33,277.24 L321.41,276.85 L321.49,276.46 L321.57,276.06 L321.65,275.67 L321.73,275.28 L321.81,274.89 M322.71,270.17 L322.78,269.78 L322.84,269.38 L322.91,268.99 L322.97,268.60 L323.04,268.20 L323.10,267.81 L323.16,267.41 L323.22,267.02 L323.29,266.62 L323.35,266.22 L323.41,265.83 L323.46,265.43 L323.52,265.04 L323.58,264.64 L323.64,264.25 L323.70,263.85 L323.75,263.45 L323.81,263.06 L323.87,262.66 L323.93,262.26 L323.98,261.87 L324.04,261.47 L324.10,261.08 L324.15,260.68 L324.21,260.28 L324.27,259.89 L324.33,259.49 L324.38,259.10 L324.44,258.70 L324.50,258.30 L324.56,257.91 L324.62,257.51 L324.68,257.12 L324.74,256.72 L324.80,256.33 L324.86,255.93 L324.92,255.54 L324.98,255.14 L325.05,254.75 M325.89,250.03 L325.96,249.63 L326.04,249.24 L326.12,248.85 L326.20,248.46 L326.28,248.07 L326.36,247.67 L326.44,247.28 L326.52,246.89 L326.61,246.50 L326.69,246.11 L326.77,245.72 L326.86,245.33 L326.94,244.94 L327.03,244.54 L327.11,244.15 L327.20,243.76 L327.29,243.37 L327.37,242.98 L327.46,242.59 L327.55,242.20 L327.64,241.81 L327.72,241.42 L327.81,241.03 L327.90,240.64 L327.99,240.25 L328.08,239.86 L328.17,239.47 L328.26,239.08 L328.35,238.69 L328.43,238.30 L328.52,237.91 L328.61,237.52 L328.70,237.13 L328.79,236.74 L328.88,236.35 L328.96,235.96 L329.05,235.57 L329.14,235.17 M330.16,230.48 L330.24,230.09 L330.33,229.70 L330.41,229.31 L330.49,228.92 L330.57,228.53 L330.66,228.14 L330.74,227.74 L330.82,227.35 L330.91,226.96 L330.99,226.57 L331.07,226.18 L331.16,225.79 L331.24,225.40 L331.32,225.01 L331.40,224.61 L331.49,224.22 L331.57,223.83 L331.65,223.44 L331.73,223.05 L331.82,222.66 L331.90,222.27 L331.98,221.87 L332.06,221.48 L332.15,221.09 L332.23,220.70 L332.31,220.31 L332.39,219.92 L332.48,219.53 L332.56,219.13 L332.64,218.74 L332.72,218.35 L332.80,217.96 L332.88,217.57 L332.97,217.18 L333.05,216.78 L333.13,216.39 L333.21,216.00 L333.29,215.61 L333.37,215.22 M334.34,210.52 L334.42,210.12 L334.50,209.73 L334.58,209.34 L334.66,208.95 L334.74,208.56 L334.82,208.16 L334.90,207.77 L334.98,207.38 L335.06,206.99 L335.14,206.60 L335.22,206.20 L335.29,205.81 L335.37,205.42 L335.45,205.03 L335.53,204.64 L335.61,204.24 L335.69,203.85 L335.77,203.46 L335.84,203.07 L335.92,202.67 L336.00,202.28 L336.08,201.89 L336.16,201.50 L336.24,201.11 L336.32,200.71 L336.39,200.32 L336.47,199.93 L336.55,199.54 L336.63,199.14 L336.71,198.75 L336.79,198.36 L336.86,197.97 L336.94,197.58 L337.02,197.18 L337.10,196.79 L337.18,196.40 L337.26,196.01 L337.34,195.61 M338.26,190.90 L338.33,190.51 L338.41,190.12 L338.48,189.72 L338.56,189.33 L338.64,188.94 L338.71,188.54 L338.79,188.15 L338.86,187.76 L338.94,187.37 L339.02,186.97 L339.09,186.58 L339.17,186.19 L339.25,185.80 L339.33,185.40 L339.41,185.01 L339.49,184.62 L339.57,184.23 L339.65,183.84 L339.73,183.44 L339.81,183.05 L339.89,182.66 L339.98,182.27 L340.06,181.88 L340.15,181.49 L340.23,181.10 L340.32,180.71 L340.40,180.32 L340.49,179.93 L340.58,179.54 L340.67,179.15 L340.76,178.76 L340.86,178.37 L340.95,177.98 L341.04,177.59 L341.13,177.21 L341.23,176.82 L341.32,176.43 L341.42,176.04 L341.52,175.65 M342.72,171.00 L342.83,170.62 L342.93,170.23 L343.04,169.84 L343.14,169.46 L343.25,169.07 L343.36,168.69 L343.47,168.30 L343.57,167.91 L343.68,167.53 L343.79,167.14 L343.90,166.76 L344.01,166.38 L344.12,165.99 L344.23,165.61 L344.34,165.22 L344.45,164.84 L344.57,164.46 L344.68,164.07 L344.79,163.69 L344.91,163.31 L345.02,162.92 L345.14,162.54 L345.25,162.16 L345.37,161.78 L345.48,161.39 L345.60,161.01 L345.72,160.63 L345.84,160.25 L345.96,159.87 L346.08,159.48 L346.20,159.10 L346.32,158.72 L346.45,158.34 L346.57,157.96 L346.69,157.58 L346.82,157.20 L346.94,156.82 L347.07,156.44 M348.62,151.89 L348.75,151.51 L348.88,151.13 L349.01,150.76 L349.15,150.38 L349.28,150.00 L349.42,149.63 L349.55,149.25 L349.68,148.87 L349.82,148.50 L349.96,148.12 L350.09,147.75 L350.23,147.37 L350.37,147.00 L350.51,146.62 L350.65,146.25 L350.79,145.87 L350.93,145.50 L351.08,145.13 L351.22,144.75 L351.36,144.38 L351.51,144.01 L351.66,143.64 L351.80,143.27 L351.95,142.89 L352.10,142.52 L352.25,142.15 L352.40,141.78 L352.55,141.41 L352.70,141.04 L352.85,140.67 L353.00,140.30 L353.15,139.93 L353.30,139.56 L353.45,139.19 L353.61,138.82 L353.76,138.45 L353.91,138.07 L354.06,137.70 L354.21,137.33 M356.01,132.88 L356.16,132.51 L356.30,132.14 L356.45,131.76 L356.59,131.39 L356.74,131.02 L356.88,130.64 L357.02,130.27 L357.16,129.90 L357.31,129.52 L357.45,129.15 L357.59,128.77 L357.73,128.40 L357.87,128.02 L358.01,127.65 L358.15,127.27 L358.29,126.90 L358.43,126.52 L358.58,126.15 L358.72,125.78 L358.86,125.40 L359.00,125.03 L359.14,124.65 L359.29,124.28 L359.43,123.91 L359.58,123.53 L359.72,123.16 L359.87,122.79 L360.01,122.42 L360.16,122.05 L360.31,121.68 L360.46,121.30 L360.61,120.94 L360.76,120.57 L360.92,120.20 L361.07,119.83 L361.23,119.46 L361.39,119.09 L361.54,118.73 M363.51,114.35 L363.68,113.98 L363.85,113.62 L364.02,113.26 L364.19,112.90 L364.36,112.53 L364.53,112.17 L364.70,111.81 L364.87,111.45 L365.04,111.09 L365.21,110.73 L365.39,110.36 L365.56,110.00 L365.73,109.64 L365.90,109.28 L366.08,108.92 L366.25,108.56 L366.42,108.20 L366.60,107.84 L366.77,107.48 L366.95,107.12 L367.13,106.76 L367.30,106.40 L367.48,106.05 L367.66,105.69 L367.84,105.33 L368.01,104.97 L368.19,104.61 L368.37,104.26 L368.55,103.90 L368.73,103.54 L368.91,103.18 L369.09,102.83 L369.28,102.47 L369.46,102.11 L369.64,101.76 L369.82,101.40 L370.01,101.05 L370.19,100.69 L370.37,100.34 M372.58,96.07 L372.77,95.71 L372.95,95.35 L373.14,95.00 L373.33,94.64 L373.51,94.29 L373.70,93.94 L373.89,93.58 L374.08,93.23 L374.28,92.88 L374.47,92.53 L374.66,92.18 L374.86,91.83 L375.06,91.49 L375.26,91.14 L375.46,90.80 L375.66,90.45 L375.86,90.11 L376.07,89.77 L376.28,89.43 L376.49,89.10 L376.70,88.76 L376.92,88.43 L377.14,88.09 L377.36,87.76 L377.58,87.43 L377.81,87.10 L378.04,86.77 L378.27,86.45 L378.50,86.12 L378.73,85.80 L378.96,85.47 L379.20,85.15 L379.44,84.83 L379.67,84.50 L379.91,84.18 L380.15,83.86 L380.39,83.54 L380.63,83.22 M383.52,79.37 L383.75,79.04 L383.99,78.72 L384.22,78.39 L384.45,78.07 L384.69,77.74 L384.92,77.41 L385.15,77.09 L385.38,76.76 L385.61,76.43 L385.84,76.11 L386.07,75.78 L386.30,75.45 L386.53,75.12 L386.76,74.79 L386.99,74.47 L387.22,74.14 L387.45,73.81 L387.68,73.48 L387.91,73.16 L388.14,72.83 L388.37,72.50 L388.61,72.18 L388.84,71.85 L389.07,71.53 L389.31,71.21 L389.54,70.88 L389.78,70.56 L390.02,70.24 L390.26,69.92 L390.50,69.60 L390.74,69.28 L390.98,68.96 L391.23,68.65 L391.47,68.33 L391.72,68.02 L391.97,67.71 L392.23,67.40 L392.48,67.10 L392.74,66.79 M395.86,63.14 L396.12,62.83 L396.37,62.52 L396.62,62.21 L396.86,61.89 L397.11,61.57 L397.35,61.25 L397.59,60.93 L397.84,60.61 L398.08,60.29 L398.32,59.97 L398.56,59.64 L398.79,59.32 L399.03,58.99 L399.27,58.67 L399.51,58.34 L399.74,58.02 L399.98,57.69 L400.22,57.37 L400.46,57.04 L400.70,56.72 L400.94,56.40 L401.18,56.08 L401.42,55.76 L401.66,55.44 L401.91,55.12 L402.15,54.81 L402.40,54.50 L402.65,54.18 L402.90,53.87 L403.16,53.57 L403.41,53.26 L403.67,52.96 L403.93,52.66 L404.19,52.37 L404.46,52.07 L404.73,51.79 L405.00,51.50 L405.28,51.22 M408.82,48.00 L409.13,47.74 L409.44,47.48 L409.75,47.23 L410.06,46.97 L410.38,46.72 L410.69,46.47 L411.00,46.21 L411.31,45.96 L411.63,45.71 L411.94,45.46 L412.25,45.20 L412.56,44.95 L412.87,44.70 L413.18,44.45 L413.49,44.20 L413.81,43.95 L414.12,43.71 L414.44,43.46 L414.75,43.22 L415.07,42.97 L415.39,42.73 L415.70,42.48 L416.02,42.24 L416.34,42.00 L416.66,41.76 L416.98,41.52 L417.30,41.28 L417.62,41.04 L417.94,40.80 L418.26,40.56 L418.58,40.32 L418.90,40.08 L419.22,39.84 L419.54,39.60 L419.86,39.36 L420.18,39.12 L420.50,38.88 L420.82,38.64 L421.14,38.39 M424.94,35.45 L425.26,35.21 L425.58,34.97 L425.90,34.72 L426.22,34.48 L426.54,34.24 L426.86,34.00 L427.18,33.77 L427.50,33.53 L427.82,33.30 L428.15,33.06 L428.48,32.83 L428.80,32.61 L429.13,32.38 L429.46,32.16 L429.80,31.94 L430.13,31.72 L430.47,31.51 L430.81,31.30 L431.15,31.09 L431.49,30.88 L431.84,30.68 L432.18,30.48 L432.53,30.28 L432.88,30.08 L433.22,29.88 L433.57,29.68 L433.92,29.48 L434.27,29.28 L434.61,29.08 L434.96,28.88 L435.31,28.68 L435.65,28.47 L436.00,28.27 L436.34,28.06 L436.68,27.85 L437.02,27.64 L437.36,27.43 L437.69,27.21" stroke="#ff1010" stroke-width="0.88"/>
<path d="M65.67,174.21 L66.06,174.15 L66.46,174.10 L66.85,174.04 L67.25,173.98 L67.65,173.93 L68.04,173.87 L68.44,173.82 L68.84,173.76 L69.23,173.71 L69.63,173.65 L70.02,173.60 L70.42,173.54 M76.36,172.71 L76.76,172.65 L77.15,172.60 L77.55,172.54 L77.95,172.49 L78.34,172.43 L78.74,172.37 L79.13,172.32 L79.53,172.26 L79.93,172.21 L80.32,172.15 L80.72,172.09 L81.11,172.04 M86.66,171.25 L87.06,171.19 L87.45,171.14 L87.85,171.08 L88.24,171.02 L88.64,170.97 L89.04,170.91 L89.43,170.85 L89.83,170.80 L90.22,170.74 L90.62,170.68 L91.02,170.63 L91.41,170.57 L91.81,170.51 M97.35,169.72 L97.75,169.66 L98.14,169.60 L98.54,169.54 L98.93,169.49 L99.33,169.43 L99.73,169.37 L100.12,169.31 L100.52,169.26 L100.91,169.20 L101.31,169.14 L101.70,169.09 L102.10,169.03 L102.50,168.97 M108.04,168.16 L108.43,168.11 L108.83,168.05 L109.22,167.99 L109.62,167.93 L110.02,167.87 L110.41,167.82 L110.81,167.76 L111.20,167.70 L111.60,167.64 L112.00,167.58 L112.39,167.53 L112.79,167.47 M118.72,166.59 L119.12,166.53 L119.51,166.48 L119.91,166.42 L120.31,166.36 L120.70,166.30 L121.10,166.24 L121.49,166.19 L121.89,166.13 L122.28,166.07 L122.68,166.01 L123.08,165.95 L123.47,165.89 M129.01,165.08 L129.41,165.02 L129.80,164.96 L130.20,164.91 L130.60,164.85 L130.99,164.79 L131.39,164.73 L131.78,164.67 L132.18,164.61 L132.57,164.56 L132.97,164.50 L133.37,164.44 L133.76,164.38 L134.16,164.32 M139.70,163.51 L140.09,163.45 L140.49,163.39 L140.89,163.33 L141.28,163.27 L141.68,163.21 L142.07,163.15 L142.47,163.09 L142.86,163.04 L143.26,162.98 L143.66,162.92 L144.05,162.86 L144.45,162.80 L144.84,162.74 M150.38,161.91 L150.78,161.85 L151.17,161.79 L151.57,161.73 L151.96,161.67 L152.36,161.61 L152.75,161.55 L153.15,161.48 L153.54,161.42 L153.94,161.36 L154.34,161.30 L154.73,161.24 L155.13,161.18 M161.06,160.26 L161.45,160.20 L161.85,160.14 L162.24,160.07 L162.64,160.01 L163.03,159.95 L163.43,159.89 L163.82,159.82 L164.22,159.76 L164.61,159.70 L165.01,159.63 L165.40,159.57 L165.80,159.51 M171.32,158.61 L171.72,158.55 L172.11,158.48 L172.51,158.42 L172.90,158.35 L173.29,158.28 L173.69,158.22 L174.08,158.15 L174.48,158.09 L174.87,158.02 L175.27,157.96 L175.66,157.89 L176.06,157.82 L176.45,157.76 M181.97,156.80 L182.36,156.73 L182.75,156.66 L183.15,156.59 L183.54,156.52 L183.94,156.45 L184.33,156.38 L184.72,156.31 L185.12,156.24 L185.51,156.17 L185.90,156.10 L186.30,156.02 L186.69,155.95 L187.08,155.88 M192.59,154.87 L192.99,154.80 L193.38,154.72 L193.77,154.65 L194.17,154.58 L194.56,154.50 L194.95,154.43 L195.35,154.36 L195.74,154.28 L196.13,154.21 L196.53,154.14 L196.92,154.06 L197.31,153.99 M203.21,152.88 L203.60,152.80 L204.00,152.73 L204.39,152.66 L204.78,152.58 L205.17,152.51 L205.57,152.43 L205.96,152.36 L206.35,152.29 L206.75,152.21 L207.14,152.14 L207.53,152.06 L207.93,151.99 M213.43,150.95 L213.82,150.87 L214.21,150.80 L214.61,150.72 L215.00,150.65 L215.39,150.57 L215.79,150.50 L216.18,150.42 L216.57,150.34 L216.96,150.27 L217.36,150.19 L217.75,150.11 L218.14,150.04 L218.53,149.96 M224.03,148.89 L224.42,148.81 L224.82,148.74 L225.21,148.66 L225.60,148.58 L225.99,148.51 L226.39,148.43 L226.78,148.36 L227.17,148.28 L227.57,148.21 L227.96,148.13 L228.35,148.05 L228.74,147.98 L229.14,147.90 M234.64,146.87 L235.03,146.80 L235.43,146.73 L235.82,146.66 L236.22,146.59 L236.61,146.52 L237.00,146.45 L237.40,146.38 L237.79,146.31 L238.18,146.24 L238.58,146.17 L238.97,146.10 L239.37,146.04 M245.28,145.02 L245.68,144.96 L246.07,144.89 L246.46,144.82 L246.86,144.75 L247.25,144.69 L247.65,144.62 L248.04,144.55 L248.44,144.48 L248.83,144.41 L249.22,144.35 L249.62,144.28 L250.01,144.21 M255.52,143.20 L255.91,143.13 L256.31,143.05 L256.70,142.98 L257.09,142.90 L257.49,142.83 L257.88,142.75 L258.27,142.68 L258.66,142.60 L259.06,142.52 L259.45,142.44 L259.84,142.36 L260.23,142.28 L260.62,142.20 M266.07,140.90 L266.46,140.80 L266.84,140.70 L267.23,140.60 L267.62,140.49 L268.00,140.39 L268.39,140.28 L268.78,140.18 L269.16,140.07 L269.55,139.97 L269.93,139.86 L270.32,139.76 L270.71,139.65 L271.09,139.55 M276.52,138.11 L276.90,138.01 L277.29,137.91 L277.68,137.80 L278.07,137.70 L278.45,137.59 L278.84,137.49 L279.23,137.38 L279.61,137.27 L280.00,137.16 L280.38,137.05 L280.76,136.94 L281.15,136.82 L281.53,136.71 L281.91,136.59 M286.43,135.01 L286.81,134.87 L287.18,134.72 L287.56,134.57 L287.93,134.42 L288.31,134.27 L288.68,134.11 L289.05,133.95 L289.43,133.79 L289.80,133.63 L290.17,133.47 L290.54,133.30 L290.90,133.13 L291.27,132.96 L291.63,132.79 M295.82,130.53 L296.15,130.32 L296.48,130.11 L296.81,129.88 L297.13,129.66 L297.45,129.43 L297.78,129.19 L298.10,128.95 L298.41,128.70 L298.73,128.45 L299.04,128.19 L299.35,127.94 L299.66,127.68 L299.97,127.41 L300.27,127.14 M304.04,123.55 L304.32,123.26 L304.59,122.97 L304.86,122.68 L305.13,122.38 L305.40,122.09 L305.66,121.79 L305.92,121.49 L306.19,121.18 L306.45,120.88 L306.71,120.57 L306.96,120.26 L307.22,119.95 L307.48,119.64 L307.73,119.33 M310.74,115.57 L310.99,115.26 L311.24,114.95 L311.49,114.64 L311.74,114.32 L311.98,114.01 L312.23,113.69 L312.48,113.38 L312.72,113.06 L312.97,112.75 L313.21,112.43 L313.46,112.11 L313.70,111.79 L313.94,111.47 L314.18,111.16 M317.04,107.30 L317.28,106.97 L317.51,106.65 L317.74,106.32 L317.98,106.00 L318.21,105.67 L318.44,105.35 L318.67,105.02 L318.90,104.69 L319.12,104.36 L319.35,104.03 L319.57,103.70 L319.79,103.37 L320.02,103.03 L320.24,102.70 M322.84,98.66 L323.06,98.32 L323.28,97.99 L323.50,97.65 L323.72,97.32 L323.94,96.98 L324.16,96.65 L324.39,96.32 L324.61,95.99 L324.84,95.66 L325.07,95.33 L325.30,95.01 L325.53,94.68 L325.76,94.36 L326.00,94.04 M329.24,89.98 L329.50,89.67 L329.76,89.37 L330.02,89.06 L330.28,88.75 L330.54,88.45 L330.79,88.14 L331.05,87.84 L331.31,87.53 L331.57,87.23 L331.83,86.93 L332.09,86.62 L332.36,86.32 L332.62,86.02 L332.88,85.72 M336.05,82.12 L336.32,81.81 L336.58,81.51 L336.84,81.21 L337.10,80.90 L337.36,80.60 L337.61,80.29 L337.87,79.99 L338.13,79.68 L338.39,79.38 L338.64,79.07 L338.90,78.76 L339.16,78.46 L339.42,78.15 L339.67,77.84 M343.01,73.85 L343.27,73.55 L343.52,73.24 L343.78,72.94 L344.04,72.63 L344.30,72.33 L344.56,72.02 L344.82,71.72 L345.08,71.41 L345.34,71.11 L345.59,70.80 L345.85,70.50 L346.11,70.19 L346.37,69.89 L346.63,69.58 L346.89,69.28 M350.02,65.64 L350.29,65.34 L350.55,65.04 L350.82,64.74 L351.08,64.44 L351.35,64.14 L351.62,63.85 L351.89,63.55 L352.15,63.26 L352.42,62.96 L352.70,62.67 L352.97,62.37 L353.24,62.08 L353.51,61.79 L353.78,61.49 L354.06,61.20 M357.36,57.72 L357.63,57.43 L357.91,57.14 L358.19,56.85 L358.46,56.56 L358.74,56.27 L359.01,55.98 L359.29,55.69 L359.56,55.39 L359.84,55.10 L360.11,54.81 L360.38,54.52 L360.66,54.23 L360.93,53.94 L361.21,53.64 L361.48,53.35 L361.75,53.06 M364.52,50.17 L364.80,49.89 L365.08,49.60 L365.37,49.32 L365.65,49.04 L365.93,48.76 L366.22,48.48 L366.51,48.20 L366.80,47.92 L367.08,47.65 L367.37,47.37 L367.66,47.10 L367.96,46.82 L368.25,46.55 L368.54,46.27 L368.83,46.00 L369.13,45.73 L369.42,45.46 L369.72,45.19 M372.42,42.80 L372.72,42.54 L373.02,42.28 L373.33,42.03 L373.64,41.77 L373.94,41.52 L374.25,41.26 L374.56,41.01 L374.87,40.76 L375.19,40.51 L375.50,40.27 L375.81,40.02 L376.13,39.77 L376.45,39.53 L376.76,39.29 L377.08,39.04 L377.40,38.80 L377.72,38.56 L378.04,38.32 M380.93,36.16 L381.25,35.92 L381.57,35.68 L381.89,35.44 L382.21,35.20 L382.53,34.96 L382.84,34.71 L383.16,34.47 L383.48,34.23 L383.80,33.99 L384.11,33.74 L384.43,33.50 L384.75,33.26 L385.07,33.02 L385.39,32.77 L385.71,32.53 L386.02,32.29 L386.34,32.05 L386.66,31.80 L386.98,31.56 M389.20,29.86 L389.52,29.62 L389.84,29.38 L390.16,29.13 L390.47,28.89 L390.79,28.65 L391.11,28.40 L391.43,28.16 L391.75,27.92 L392.06,27.68 L392.38,27.43 L392.70,27.19 L393.02,26.95 L393.34,26.71 L393.65,26.46 L393.97,26.22 L394.29,25.98 L394.61,25.74 L394.93,25.50 L395.25,25.26" stroke="#0000ff" stroke-width="2.75"/>
<path d="M62.10,172.90 L63.16,172.75 L64.22,172.60 L65.28,172.45 L66.34,172.31 L67.40,172.16 L68.46,172.01 L69.52,171.86 L70.58,171.71 L71.64,171.56 L72.70,171.41 L73.76,171.26 L74.82,171.11 L75.88,170.97 L76.94,170.82 L78.00,170.67 L79.06,170.52 L80.12,170.37 L81.18,170.22 L82.24,170.07 L83.30,169.92 L84.36,169.77 L85.42,169.62 L86.48,169.47 L87.54,169.32 L88.60,169.17 L89.66,169.02 L90.72,168.87 L91.78,168.72 L92.84,168.57 L93.89,168.42 L94.95,168.27 L96.01,168.12 L97.07,167.97 L98.13,167.82 L99.19,167.67 L100.25,167.52 L101.31,167.37 L102.37,167.22 L103.43,167.07 L104.49,166.92 L105.55,166.77 L106.61,166.62 L107.67,166.47 L108.73,166.32 L109.79,166.17 L110.85,166.02 L111.91,165.87 L112.97,165.72 L114.03,165.57 L115.09,165.41 L116.15,165.26 L117.21,165.11 L118.27,164.96 L119.33,164.81 L120.39,164.66 L121.45,164.51 L122.51,164.36 L123.57,164.21 L124.63,164.06 L125.69,163.91 L126.75,163.76 L127.81,163.62 L128.87,163.47 L129.93,163.32 L130.99,163.17 L132.05,163.02 L133.11,162.87 L134.17,162.73 L135.23,162.58 L136.29,162.43 L137.35,162.28 L138.41,162.13 L139.47,161.99 L140.53,161.84 L141.59,161.69 L142.65,161.54 L143.71,161.39 L144.77,161.24 L145.83,161.09 L146.89,160.94 L147.95,160.79 L149.01,160.64 L150.07,160.49 L151.13,160.34 L152.19,160.19 L153.24,160.04 L154.30,159.89 L155.36,159.74 L156.42,159.58 L157.48,159.43 L158.54,159.28 L159.60,159.12 L160.66,158.97 L161.72,158.81 L162.78,158.66 L163.84,158.50 L164.89,158.34 L165.95,158.18 L167.01,158.02 L168.07,157.86 L169.13,157.70 L170.18,157.54 L171.24,157.38 L172.30,157.22 L173.36,157.06 L174.41,156.89 L175.47,156.73 L176.53,156.56 L177.59,156.39 L178.64,156.22 L179.70,156.05 L180.76,155.88 L181.81,155.71 L182.87,155.54 L183.92,155.36 L184.98,155.19 L186.04,155.01 L187.09,154.84 L188.15,154.66 L189.20,154.48 L190.26,154.31 L191.31,154.13 L192.37,153.95 L193.42,153.77 L194.48,153.58 L195.53,153.40 L196.59,153.22 L197.64,153.04 L198.69,152.85 L199.75,152.67 L200.80,152.49 L201.86,152.30 L202.91,152.12 L203.97,151.93 L205.02,151.75 L206.08,151.56 L207.13,151.38 L208.18,151.19 L209.24,151.00 L210.29,150.82 L211.35,150.63 L212.40,150.45 L213.45,150.26 L214.51,150.07 L215.56,149.89 L216.62,149.70 L217.67,149.52 L218.73,149.33 L219.78,149.15 L220.83,148.96 L221.89,148.78 L222.94,148.59 L224.00,148.41 L225.05,148.22 L226.11,148.04 L227.16,147.86 L228.22,147.67 L229.27,147.49 L230.32,147.31 L231.38,147.13 L232.43,146.95 L233.49,146.77 L234.55,146.59 L235.60,146.41 L236.66,146.24 L237.71,146.06 L238.77,145.89 L239.82,145.71 L240.88,145.54 L241.94,145.37 L242.99,145.19 L244.05,145.02 L245.11,144.85 L246.16,144.68 L247.22,144.51 L248.28,144.34 L249.33,144.17 L250.39,144.00 L251.45,143.83 L252.50,143.66 L253.56,143.48 L254.62,143.31 L255.67,143.14 L256.73,142.97 L257.79,142.80 L258.84,142.63 L259.90,142.46 L260.96,142.29 L262.01,142.11 L263.07,141.94 L264.13,141.76 L265.18,141.59 L266.24,141.41 L267.29,141.23 L268.35,141.06 L269.40,140.88 L270.46,140.70 L271.51,140.51 L272.57,140.33 L273.62,140.15 L274.67,139.96 L275.73,139.78 L276.78,139.59 L277.83,139.40 L278.89,139.20 L279.94,139.01 L280.99,138.81 L282.04,138.61 L283.09,138.41 L284.14,138.20 L285.19,137.99 L286.24,137.78 L287.29,137.56 L288.34,137.35 L289.39,137.13 L290.43,136.92 L291.48,136.70 L292.53,136.49 L293.58,136.28 L294.63,136.07 L295.68,135.86 L296.73,135.66 L297.78,135.47 L298.84,135.27 L299.89,135.08 L300.94,134.89 L302.00,134.70 L303.05,134.51 L304.10,134.32 L305.16,134.13 L306.21,133.93 L307.26,133.74 L308.31,133.54 L309.36,133.33 L310.41,133.13 L311.46,132.91 L312.51,132.69 L313.56,132.48 L314.62,132.27 L315.67,132.05 L316.72,131.81 L317.76,131.57 L318.79,131.30 L319.81,131.00 L320.81,130.65 L321.80,130.24 L322.78,129.79 L323.75,129.32 L324.71,128.85 L325.65,128.35 L326.59,127.84 L327.52,127.30 L328.44,126.75 L329.35,126.19 L330.27,125.64 L331.19,125.09 L332.12,124.54 L333.04,123.98 L333.96,123.42 L334.87,122.84 L335.75,122.25 L336.62,121.63 L337.45,120.98 L338.25,120.29 L339.03,119.55 L339.78,118.79 L340.53,118.01 L341.28,117.24 L342.03,116.47 L342.78,115.71 L343.53,114.95 L344.28,114.18 L345.02,113.41 L345.77,112.64 L346.51,111.87 L347.25,111.10 L347.98,110.32 L348.72,109.54 L349.46,108.77 L350.19,107.99 L350.93,107.21 L351.66,106.43 L352.40,105.65 L353.13,104.87 L353.87,104.10 L354.60,103.32 L355.33,102.54 L356.06,101.75 L356.79,100.97 L357.51,100.18 L358.23,99.38 L358.94,98.58 L359.64,97.78 L360.33,96.96 L361.02,96.14 L361.70,95.31 L362.37,94.48 L363.05,93.65 L363.72,92.81 L364.38,91.98 L365.06,91.14 L365.73,90.31 L366.41,89.48 L367.09,88.65 L367.78,87.84 L368.48,87.03 L369.18,86.22 L369.89,85.42 L370.59,84.61 L371.31,83.81 L372.02,83.01 L372.74,82.22 L373.46,81.43 L374.19,80.64 L374.92,79.86 L375.66,79.08 L376.40,78.31 L377.15,77.55 L377.90,76.79 L378.67,76.05 L379.44,75.31 L380.22,74.58 L381.00,73.85 L381.80,73.13 L382.60,72.42 L383.40,71.71 L384.21,71.00 L385.02,70.30 L385.83,69.60 L386.64,68.90 L387.46,68.21 L388.29,67.53 L389.12,66.86 L389.96,66.20 L390.81,65.54 L391.65,64.88 L392.48,64.21 L393.31,63.53 L394.13,62.84 L394.93,62.13 L395.71,61.41 L396.49,60.67 L397.26,59.92 L398.02,59.17 L398.77,58.41 L399.53,57.64 L400.28,56.88 L401.04,56.12 L401.80,55.36 L402.57,54.62 L403.34,53.88 L404.13,53.16 L404.93,52.46 L405.75,51.77 L406.57,51.10 L407.41,50.43 L408.26,49.78 L409.11,49.13 L409.97,48.48 L410.83,47.84 L411.69,47.20 L412.55,46.56 L413.41,45.93 L414.27,45.29 L415.14,44.67 L416.01,44.04 L416.88,43.42 L417.75,42.80 L418.62,42.18 L419.50,41.56 L420.37,40.94 L421.25,40.33 L422.12,39.71 L422.99,39.09 L423.87,38.47 L424.74,37.85 L425.62,37.24 L426.50,36.63 L427.39,36.03 L428.28,35.43 L429.17,34.85 L430.07,34.27 L430.97,33.70 L431.88,33.13 L432.79,32.57 L433.71,32.01 L434.63,31.47 L435.56,30.92 L436.48,30.39 L437.42,29.87 L438.35,29.35 L439.29,28.85 L440.24,28.35 L441.19,27.85 L442.14,27.37 L443.10,26.89 L444.06,26.42 L445.03,25.96 L446.00,25.50" stroke="#ff0000" stroke-width="2.6" stroke-dasharray="15.5,5" stroke-linecap="butt"/>
</g>
<g font-family="'Liberation Serif', serif" fill="#262626" filter="url(#gs)">
<text transform="translate(58.50,439.7) scale(1.18,1)" font-size="16" text-anchor="middle">5</text>
<text transform="translate(155.38,439.7) scale(1.18,1)" font-size="16" text-anchor="middle">5.5</text>
<text transform="translate(252.25,439.7) scale(1.18,1)" font-size="16" text-anchor="middle">6</text>
<text transform="translate(349.12,439.7) scale(1.18,1)" font-size="16" text-anchor="middle">6.5</text>
<text transform="translate(446.00,439.7) scale(1.18,1)" font-size="16" text-anchor="middle">7</text>
<text transform="translate(252.8,458.9) scale(1.18,1)" font-size="16" text-anchor="middle">z</text>
<text transform="translate(19.2,32.00) scale(1.18,1)" font-size="16" letter-spacing="0">10<tspan font-size="7.6" dy="-5.9" dx="-0.3">−</tspan><tspan font-size="10" dy="0.8" dx="1.0">1</tspan></text>
<text transform="translate(19.2,130.70) scale(1.18,1)" font-size="16" letter-spacing="0">10<tspan font-size="7.6" dy="-5.9" dx="-0.3">−</tspan><tspan font-size="10" dy="0.8" dx="1.0">2</tspan></text>
<text transform="translate(19.2,229.40) scale(1.18,1)" font-size="16" letter-spacing="0">10<tspan font-size="7.6" dy="-5.9" dx="-0.3">−</tspan><tspan font-size="10" dy="0.8" dx="1.0">3</tspan></text>
<text transform="translate(19.2,328.10) scale(1.18,1)" font-size="16" letter-spacing="0">10<tspan font-size="7.6" dy="-5.9" dx="-0.3">−</tspan><tspan font-size="10" dy="0.8" dx="1.0">4</tspan></text>
<text transform="translate(19.2,426.80) scale(1.18,1)" font-size="16" letter-spacing="0">10<tspan font-size="7.6" dy="-5.9" dx="-0.3">−</tspan><tspan font-size="10" dy="0.8" dx="1.0">5</tspan></text>
<text transform="translate(14,223) rotate(-90) scale(1.18,1)" font-size="16" text-anchor="middle" letter-spacing="0.55">HI fraction</text>
</g>
</svg>
</body></html>
